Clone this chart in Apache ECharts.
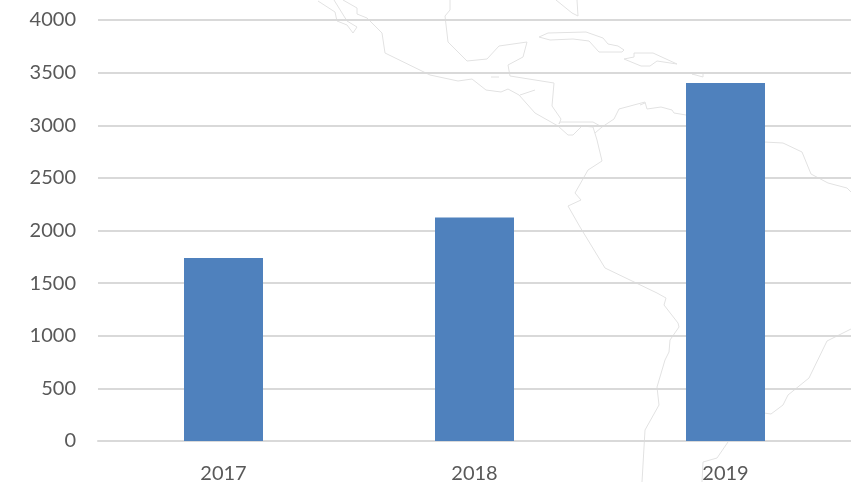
<!DOCTYPE html>
<html>
<head>
<meta charset="utf-8">
<style>
  html, body { margin: 0; padding: 0; background: #fff; }
  #chart { width: 851px; height: 482px; }
</style>
<script src="https://cdn.jsdelivr.net/npm/echarts@6/dist/echarts.min.js"></script>
</head>
<body>
<div id="chart"></div>
<script>
const years = ['2017', '2018', '2019']
const values = [1739, 2124, 3401]
const yTicks = { min: 0, max: 4000, interval: 500 }

// faint map behind the plot, pixel positions on the page
const mapOutlines = [
  [[318,1],[335,12],[337,21],[347,25],[353,33],[357,27],[347,21],[334,0]],
  [[343,0],[357,8],[357,14],[367,18],[382,33],[385,53],[430,75],[458,81],[472,79],[486,90],[501,92],[508,89],[519,95],[535,113],[558,126],[568,135],[573,135],[582,126],[593,127],[597,140],[602,161],[588,170],[575,193],[581,200],[568,206],[580,227],[605,268],[657,293],[666,298],[664,305],[678,323],[679,327],[670,340],[669,352],[665,360],[657,387],[659,405],[645,430],[642,482]],
  [[764,142],[783,143],[802,152],[811,174],[828,183],[847,188],[851,192]],
  [[851,329],[827,341],[809,378],[788,395],[783,405],[771,414],[764,413]],
  [[728,442],[717,458],[703,462],[702,482]],
  [[450,0],[450,10],[445,16],[448,42],[467,61],[487,59],[499,46],[527,42],[523,57],[508,65],[510,76],[554,83],[552,106],[561,119],[559,124],[560,122],[593,122],[602,127],[595,133]],
  [[602,127],[614,119],[619,109],[645,102],[647,109],[661,107],[672,110],[674,113],[686,115]],
  [[640,105],[645,103]],
  [[556,0],[572,13],[578,16],[577,0]],
  [[539,37],[548,33],[586,32],[603,38],[608,44],[618,46],[624,50],[622,52],[599,52],[589,41],[573,39],[550,40],[539,37]],
  [[624,59],[634,57],[634,53],[653,53],[677,64],[657,61],[650,66],[641,66],[624,59]],
  [[692,74],[703,73],[703,77],[692,74]],
  [[491,77],[499,77]],
  [[520,95],[535,90]]
]

const chart = echarts.init(document.getElementById('chart'))
const labelFont = { color: '#595959', fontFamily: 'Lato', fontSize: 20 }

chart.setOption({
  animation: false,
  graphic: mapOutlines.map(points => ({
    type: 'polyline',
    silent: true,
    z: -1,
    shape: { points },
    style: { fill: null, stroke: '#e2e2e2', lineWidth: 1 }
  })),
  grid: { left: 98, right: 0, top: 20, bottom: 41, outerBoundsMode: 'none' },
  xAxis: {
    type: 'category',
    data: years,
    axisTick: { show: false },
    axisLine: { lineStyle: { color: '#d9d9d9', width: 2 } },
    axisLabel: { ...labelFont, margin: 23 }
  },
  yAxis: {
    type: 'value',
    min: yTicks.min,
    max: yTicks.max,
    interval: yTicks.interval,
    axisLine: { show: false },
    axisTick: { show: false },
    axisLabel: { ...labelFont, margin: 22, padding: [2, 0, 0, 0], formatter: v => String(v) },
    splitLine: { lineStyle: { color: '#d9d9d9', width: 2 } }
  },
  series: [
    {
      type: 'bar',
      data: values,
      barWidth: 79,
      itemStyle: { color: '#4f81bd' }
    }
  ]
})
</script>
</body>
</html>
